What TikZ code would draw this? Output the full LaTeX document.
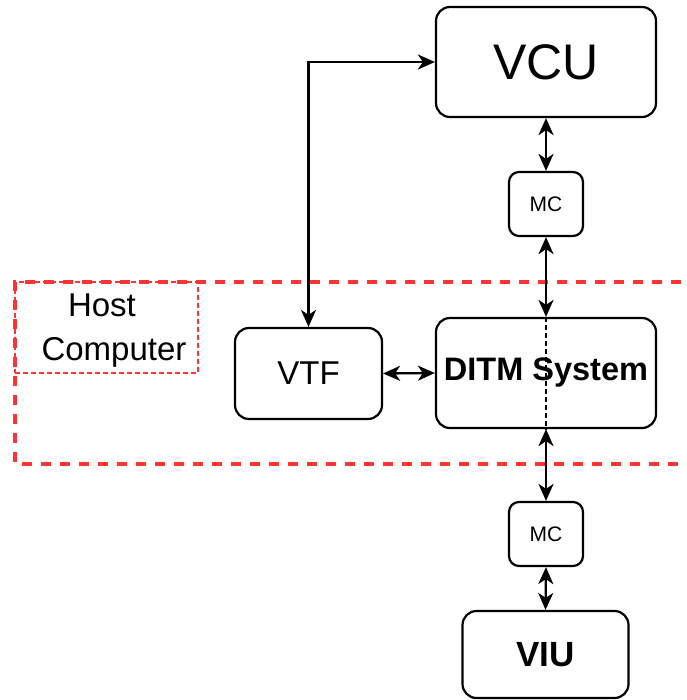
\documentclass[tikz,border=0pt]{standalone}
\usepackage{fontspec}
\setmainfont{Liberation Sans}
\usetikzlibrary{arrows.meta}
\definecolor{hostred}{HTML}{FF3333}
\tikzset{
  box/.style={draw=black, line width=2.2pt, rounded corners=14pt, fill=white,
              inner sep=0pt, align=center},
  link/.style={line width=2.3pt,
               arrows={Stealth[length=17pt,width=15pt,inset=5pt]-Stealth[length=17pt,width=15pt,inset=5pt]}},
  hostframe/.style={draw=hostred, line width=3.5pt, dash pattern=on 10pt off 9pt},
  hostlabel/.style={draw=hostred, line width=1.5pt, dash pattern=on 5pt off 3pt,
                    inner sep=0pt},
}
\begin{document}
\begin{tikzpicture}[x=1pt, y=-1pt]
\useasboundingbox (0,0) rectangle (686,700);
\clip (0,0) rectangle (686,700);

% host computer boundary and its label
\draw[hostframe] (700,282) -- (15,282) -- (15,464) -- (700,464);
\node[hostlabel, minimum width=183pt, minimum height=91pt] (hostbox) at (106.5,327.5) {};
\node[align=center, inner sep=0pt, font=\fontsize{33}{44}\selectfont]
     (host) at (114,331) {Host\hspace*{24pt}\\Computer};

% blocks
\node[box, minimum width=220pt, minimum height=110pt,
      font=\fontsize{50}{60}\selectfont] (vcu) at (546,62) {VCU};
\node[box, minimum width=74pt, minimum height=64pt, rounded corners=10pt,
      font=\fontsize{21}{25}\selectfont] (mc1) at (546,204) {MC};
\node[box, minimum width=220pt, minimum height=110pt,
      font=\bfseries\fontsize{32.5}{38}\selectfont] (ditm) at (546,373) {DITM System};
\node[box, minimum width=74pt, minimum height=64pt, rounded corners=10pt,
      font=\fontsize{21}{25}\selectfont] (mc2) at (546,534) {MC};
\node[box, minimum width=166pt, minimum height=87pt,
      font=\bfseries\fontsize{35}{42}\selectfont] (viu) at (545.5,654.5) {VIU};
\node[box, minimum width=147pt, minimum height=91pt,
      font=\fontsize{33}{40}\selectfont] (vtf) at (308.5,373.5) {VTF};

% connectors
\draw[link] (vcu.south) -- (mc1.north);
\draw[link] (mc1.south) -- (ditm.north);
\draw[link] (ditm.south) -- (mc2.north);
\draw[link] (mc2.south) -- (viu.north);
\draw[link] (vtf.east) -- (ditm.west);
\draw[link] (vtf.north) |- (vcu.west);
\draw[line width=1.4pt, dash pattern=on 5pt off 3pt] (ditm.north) -- (ditm.south);
\end{tikzpicture}
\end{document}
